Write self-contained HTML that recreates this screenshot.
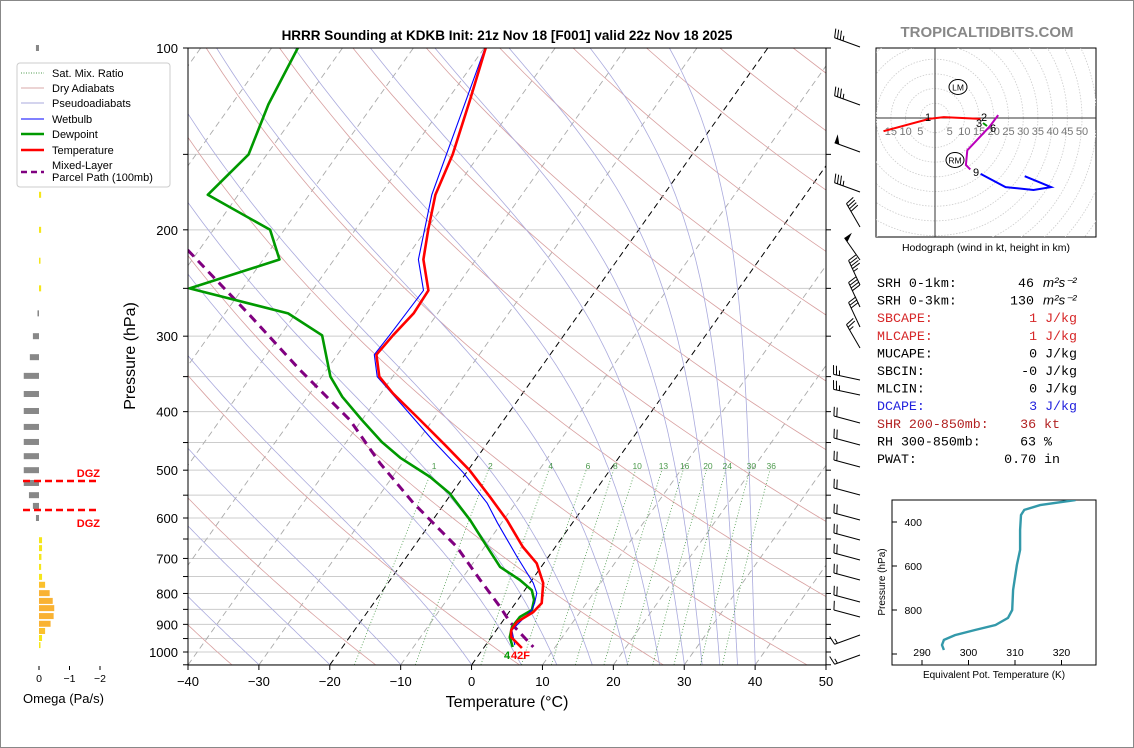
<!DOCTYPE html>
<html><head><meta charset="utf-8"><style>
html,body{margin:0;padding:0;background:#fff}
svg{display:block;font-family:"Liberation Sans","DejaVu Sans",sans-serif}
</style></head><body>
<svg id="s" width="1134" height="748" viewBox="0 0 1134 748" xmlns="http://www.w3.org/2000/svg">
<rect x="0.5" y="0.5" width="1133" height="747" fill="#fff" stroke="#888"/>
<defs><clipPath id="pc"><rect x="188" y="48" width="638" height="617"/></clipPath></defs>
<g id="bg" clip-path="url(#pc)"></g>
<g id="series" clip-path="url(#pc)"></g>
<rect x="188" y="48" width="638" height="617" fill="none" stroke="#000"/>
<g id="axes"></g>
<text x="507" y="40" text-anchor="middle" font-size="13.5" font-weight="bold">HRRR Sounding at KDKB Init: 21z Nov 18 [F001] valid 22z Nov 18 2025</text>
<text x="987" y="37" text-anchor="middle" font-size="15" font-weight="bold" fill="#888">TROPICALTIDBITS.COM</text>
<text x="507" y="707" text-anchor="middle" font-size="16">Temperature (°C)</text>
<text transform="translate(135,356) rotate(-90)" text-anchor="middle" font-size="16">Pressure (hPa)</text>
<g id="omega"></g>
<g id="barbs"></g>
<g id="hodo"></g>
<g id="stats" font-family="Liberation Mono, monospace" font-size="13.3"></g>
<g id="thetae"></g>
<g id="legend">
<rect x="17" y="63" width="153" height="124" rx="3" fill="#fff" stroke="#ccc"/>
<line x1="21" y1="73" x2="44" y2="73" stroke="#4c9a4c" stroke-dasharray="1,1.5"/>
<text x="52" y="77" font-size="11">Sat. Mix. Ratio</text>
<line x1="21" y1="88" x2="44" y2="88" stroke="#d8a8a8"/>
<text x="52" y="92" font-size="11">Dry Adiabats</text>
<line x1="21" y1="103" x2="44" y2="103" stroke="#aaaadd"/>
<text x="52" y="107" font-size="11">Pseudoadiabats</text>
<line x1="21" y1="119" x2="44" y2="119" stroke="#00f"/>
<text x="52" y="123" font-size="11">Wetbulb</text>
<line x1="21" y1="134" x2="44" y2="134" stroke="#090" stroke-width="2.5"/>
<text x="52" y="138" font-size="11">Dewpoint</text>
<line x1="21" y1="150" x2="44" y2="150" stroke="#f00" stroke-width="2.5"/>
<text x="52" y="154" font-size="11">Temperature</text>
<line x1="21" y1="172" x2="44" y2="172" stroke="#800080" stroke-width="2.5" stroke-dasharray="6,4"/>
<text x="52" y="169" font-size="11">Mixed-Layer</text>
<text x="52" y="181" font-size="11">Parcel Path (100mb)</text>
</g>
</svg>
<script>
// ---- data ----
const tempP=[100,122,150,175,200,224,252,275,299,322,350,373,413,454,500,554,605,670,713,769,830,859,892,920,945,985];
const tempT=[-59.8,-56.8,-53.8,-52.2,-49.7,-47.4,-43.6,-43.4,-44.1,-44.5,-41.9,-38.3,-31.8,-25.8,-19.8,-14.2,-9.5,-4.6,-1.0,1.9,3.7,3.4,2.1,2.1,2.8,5.4];
const dewP=[100,124,150,175,200,224,250,275,299,350,378,413,449,477,513,546,605,653,723,760,790,820,852,875,909,945,981];
const dewT=[-86.3,-84.8,-82.6,-84.3,-72.0,-67.7,-77.5,-61.1,-54.1,-48.8,-45.1,-40.0,-35.0,-30.8,-24.7,-20.3,-14.7,-10.9,-5.8,-1.7,1.0,2.3,3.0,2.0,1.9,2.6,4.0];
const wbP=[100,175,224,252,299,322,350,413,446,505,567,611,696,769,799,830,852,920,974];
const wbT=[-59.9,-52.7,-48.1,-44.3,-44.6,-44.8,-42.2,-32.5,-28.0,-20.4,-14.0,-10.6,-4.4,0.5,2.0,2.7,3.0,2.2,4.1];
const parP=[216,277,341,413,487,566,670,760,842,892,981];
const parT=[-81.6,-66.3,-53.8,-41.7,-33.1,-24.5,-13.9,-7.3,-1.8,1.1,6.9];
const tempTicks=[-40,-30,-20,-10,0,10,20,30,40,50];
const presTicks=[100,200,300,400,500,600,700,800,900,1000];
const mixRatios=[1,2,4,6,8,10,13,16,20,24,30,36];
const moistStarts=[-40,-30,-20,-10,0,7,12,17,22,26.5,30,32.5,35,37.5,40];
const omegaP=[100,150,175,200,225,250,275,300,325,349,374,399,424,449,474,500,525,550,573,600,653,673,696,723,751,774,799,823,846,872,898,923,948,974];
const omegaV=[0.1,-0.07,-0.07,-0.07,-0.03,-0.07,0.05,0.2,0.3,0.5,0.5,0.5,0.5,0.5,0.5,0.5,0.5,0.33,0.2,0.1,-0.1,-0.1,-0.08,-0.07,-0.1,-0.2,-0.35,-0.45,-0.5,-0.48,-0.38,-0.2,-0.1,-0.03];
const thetaP=[300,323,345,368,436,527,595,709,800,836,868,891,914,936,959,982];
const thetaV=[323,315.4,312,311.3,311.1,311.1,310.4,309.6,309.4,308.5,305.8,301.4,297.1,294.7,294.3,294.7];
const hodoRedU=[-17.5,-2,3,15.5];const hodoRedV=[-4.5,-0.3,0.3,-0.3];
const hodoMagU=[21.5,18.5,11,10.5,12];const hodoMagV=[1,-3,-11,-16,-17.5];
const hodoBlueU=[15.5,24,33.5,39.5,30.5];const hodoBlueV=[-19,-23.5,-24.5,-23.5,-19.8];
const statLabels=["SRH 0-1km:","SRH 0-3km:","SBCAPE:","MLCAPE:","MUCAPE:","SBCIN:","MLCIN:","DCAPE:","SHR 200-850mb:","RH 300-850mb:","PWAT:"];
const statValues=["46","130","1 J/kg","1 J/kg","0 J/kg","-0 J/kg","0 J/kg","3 J/kg","36 kt","63 %","0.70 in"];
const barbY=[42,100,147,187,222,255,280,302,322,343,375,390,418,440,462,490,515,535,555,575,597,612,630,650];
const barbSpd=[35,35,50,35,40,50,45,40,30,25,25,25,20,20,20,20,20,20,20,20,20,10,15,15];
const barbDir=[200,200,200,200,240,235,245,245,245,240,192,192,195,195,195,195,195,195,195,195,195,195,160,160];

const NS="http://www.w3.org/2000/svg";
function mk(tag,attrs,parent){const e=document.createElementNS(NS,tag);for(const k in attrs)e.setAttribute(k,attrs[k]);parent.appendChild(e);return e;}
const yOf=p=>48+604*Math.log10(p/100);
const xOf=(T,p)=>188+(T+40)*7.089+(665-yOf(p))*0.71;
const bg=document.getElementById('bg'),series=document.getElementById('series'),axes=document.getElementById('axes');
function pathFrom(ps,ts){return ps.map((p,i)=>(i?'L':'M')+xOf(ts[i],p).toFixed(1)+','+yOf(p).toFixed(1)).join('');}

for(let p=100;p<=1050;p+=50){const l=mk('line',{x1:188,x2:826,y1:yOf(p),y2:yOf(p),stroke:'#ccc','stroke-width':1},bg);

}
for(let T=-120;T<=50;T+=10){const bl=(T===0||T===-20);const l=mk('line',{x1:xOf(T,1050),y1:yOf(1050),x2:xOf(T,100),y2:yOf(100),stroke:bl?'#000':'#aaa','stroke-width':bl?1:0.9,'stroke-dasharray':'6,4'},bg);

}
for(let th=216;th<=600;th+=20){let d='';for(let p=1050;p>=100;p-=10){const T=th*Math.pow(p/1000,0.286)-273.15;d+=(d?'L':'M')+xOf(T,p).toFixed(1)+','+yOf(p).toFixed(1);}
const l=mk('path',{d:d,fill:'none',stroke:'#d8a0a0','stroke-width':0.8},bg);

}
function es(Tc){return 6.112*Math.exp(17.67*Tc/(Tc+243.5));}
moistStarts.forEach(T0=>{let T=T0+273.15;let d='M'+xOf(T0,1050).toFixed(1)+','+yOf(1050).toFixed(1);
for(let p=1050;p>100;p-=5){const e=es(T-273.15),rs=0.622*e/(p-e);const dTdp=(287*T+2.5e6*rs)/(p*(1004+2.5e6*2.5e6*rs*0.622/(287*T*T)));T-=dTdp*5;d+='L'+xOf(T-273.15,p-5).toFixed(1)+','+yOf(p-5).toFixed(1);}
const l=mk('path',{d:d,fill:'none',stroke:'#aaaadd','stroke-width':0.8},bg);

});
function tdOf(w,p){const e=w*p/(622+w);const a=Math.log(e/6.112);return 243.5*a/(17.67-a);}
mixRatios.forEach(w=>{let d='';for(let p=1050;p>=500;p-=25){d+=(d?'L':'M')+xOf(tdOf(w,p),p).toFixed(1)+','+yOf(p).toFixed(1);}
const l=mk('path',{d:d,fill:'none',stroke:'#4c9a4c','stroke-width':0.8,'stroke-dasharray':'1,2'},bg);


const t=mk('text',{x:xOf(tdOf(w,490),490),y:yOf(490)+4,'font-size':8.5,fill:'#4c9a4c','text-anchor':'middle'},bg);t.textContent=w;

});

let s;
s=mk('path',{d:pathFrom(parP,parT),fill:'none',stroke:'#800080','stroke-width':3,'stroke-dasharray':'9,6'},series);


s=mk('path',{d:pathFrom(dewP,dewT),fill:'none',stroke:'#090','stroke-width':2.6,'stroke-linejoin':'round'},series);


s=mk('path',{d:pathFrom(wbP,wbT),fill:'none',stroke:'#00f','stroke-width':1.1},series);


s=mk('path',{d:pathFrom(tempP,tempT),fill:'none',stroke:'#f00','stroke-width':2.6,'stroke-linejoin':'round'},series);


s=mk('text',{x:504,y:659,'font-size':11,'font-weight':'bold',fill:'#090'},series);s.textContent='4';


s=mk('text',{x:511,y:659,'font-size':11,'font-weight':'bold',fill:'#f00'},series);s.textContent='42F';



tempTicks.forEach(T=>{const x=188+(T+40)*7.089;mk('line',{x1:x,x2:x,y1:665,y2:670,stroke:'#000'},axes);
const t=mk('text',{x:x,y:686,'font-size':13,'text-anchor':'middle'},axes);t.textContent=T<0?'−'+(-T):T;

});
for(let p=100;p<=1050;p+=50){const y=yOf(p);mk('line',{x1:183,x2:188,y1:y,y2:y,stroke:'#000'},axes);mk('line',{x1:826,x2:831,y1:y,y2:y,stroke:'#000'},axes);}
presTicks.forEach(p=>{const t=mk('text',{x:178,y:yOf(p)+5,'font-size':13,'text-anchor':'end'},axes);t.textContent=p;

});

const om=document.getElementById('omega');
omegaP.forEach((p,i)=>{const v=omegaV[i],w=Math.abs(v)*30.5,y=yOf(p);const x=v>0?39-w:39;
const col=v>0?'#888':(v<-0.3?'#f9b233':(v<-0.15?'#fbc02d':'#f5e61a'));
const r=mk('rect',{x:x,y:y-3,width:Math.max(w,1.5),height:6,fill:col},om);

});
[[481,'DGZ',473],[510,'DGZ',523]].forEach(a=>{const l=mk('line',{x1:23,x2:100,y1:a[0],y2:a[0],stroke:'#f00','stroke-width':2.5,'stroke-dasharray':'7,4'},om);


const t=mk('text',{x:100,y:a[2]+4,'font-size':11,'font-weight':'bold',fill:'#f00','text-anchor':'end'},om);t.textContent=a[1];

});
[0,-1,-2].forEach(v=>{const x=39-v*30.5;mk('line',{x1:x,x2:x,y1:666,y2:670,stroke:'#000'},om);
const t=mk('text',{x:x,y:682,'font-size':10.5,'text-anchor':'middle'},om);t.textContent=v<0?'−'+(-v):v;

});
s=mk('text',{x:23,y:703,'font-size':13},om);s.textContent='Omega (Pa/s)';



const bb=document.getElementById('barbs');
barbY.forEach((y,i)=>{const spd=barbSpd[i],ang=barbDir[i]*Math.PI/180;const L=27;
const ax=860,ay=y+5;const ux=Math.cos(ang),uy=Math.sin(ang);const ex=ax+ux*L,ey=ay+uy*L;
const g=mk('g',{},bb);


mk('line',{x1:ax,y1:ay,x2:ex,y2:ey,stroke:'#000','stroke-width':1},g);
let nx=uy,ny=-ux;if(ny>0){nx=-nx;ny=-ny;}
let rem=spd,pos=0;
while(rem>=50){const px=ex-ux*pos,py=ey-uy*pos;mk('path',{d:`M${px},${py}L${px+nx*9},${py+ny*9}L${px-ux*5},${py-uy*5}Z`,fill:'#000'},g);pos+=6;rem-=50;}
while(rem>=10){const px=ex-ux*pos,py=ey-uy*pos;mk('line',{x1:px,y1:py,x2:px+nx*9+ux*2,y2:py+ny*9+uy*2,stroke:'#000'},g);pos+=3;rem-=10;}
if(rem>=5){if(pos===0)pos=3;const px=ex-ux*pos,py=ey-uy*pos;mk('line',{x1:px,y1:py,x2:px+nx*5+ux*1,y2:py+ny*5+uy*1,stroke:'#000'},g);}
});

const hd=document.getElementById('hodo');const hx=935,hy=118,ks=2.94;
mk('rect',{x:876,y:48,width:220,height:189,fill:'#fff',stroke:'#000'},hd);
const cp=mk('clipPath',{id:'hcp'},hd);mk('rect',{x:876,y:48,width:220,height:189},cp);
const hc=mk('g',{'clip-path':'url(#hcp)'},hd);
for(let r=5;r<=80;r+=5){mk('circle',{cx:hx,cy:hy,r:r*ks,fill:'none',stroke:'#ccc','stroke-dasharray':'1.5,1.5','stroke-width':0.8},hc);}
mk('line',{x1:876,x2:1096,y1:hy,y2:hy,stroke:'#333'},hc);mk('line',{x1:hx,x2:hx,y1:48,y2:237,stroke:'#333'},hc);
[5,10,15,20,25,30,35,40,45,50].forEach(k=>{const t=mk('text',{x:hx+k*ks,y:hy+17,'font-size':11,fill:'#777','text-anchor':'middle'},hc);t.textContent=k;

});
[5,10,15].forEach(k=>{const t=mk('text',{x:hx-k*ks,y:hy+17,'font-size':11,fill:'#777','text-anchor':'middle'},hc);t.textContent=k;

});
function hp(us,vs,col,name){const d=us.map((u,i)=>(i?'L':'M')+(hx+u*ks).toFixed(1)+','+(hy-vs[i]*ks).toFixed(1)).join('');
const p=mk('path',{d:d,fill:'none',stroke:col,'stroke-width':2},hc);

}
hp(hodoRedU,hodoRedV,'#f00','hodo-0-1km');hp(hodoMagU,hodoMagV,'#b0b','hodo-3-9km');hp(hodoBlueU,hodoBlueV,'#00f','hodo-9km-up');
mk('line',{x1:983,y1:123,x2:987,y2:126,stroke:'#090','stroke-width':2},hc);
[['1',928,121],['2',984,121],['3',979,127],['6',993,132],['9',976,176]].forEach(a=>{const t=mk('text',{x:a[1],y:a[2],'font-size':11,'text-anchor':'middle'},hc);t.textContent=a[0];

});
[['LM',958,87],['RM',955,160]].forEach(a=>{mk('ellipse',{cx:a[1],cy:a[2],rx:9,ry:7.5,fill:'#fff',stroke:'#000'},hc);const t=mk('text',{x:a[1],y:a[2]+3.5,'font-size':8.5,'text-anchor':'middle'},hc);t.textContent=a[0];

});
s=mk('text',{x:986,y:251,'font-size':10.5,'text-anchor':'middle'},hd);s.textContent='Hodograph (wind in kt, height in km)';



const st=document.getElementById('stats');
const statCols=['#000','#000','#d62728','#d62728','#000','#000','#000','#2222dd','#b22222','#000','#000'];
const statEnd=[1034,1034,1077,1077,1077,1077,1077,1077,1060,1052,1060];
statLabels.forEach((lab,i)=>{const y=287+i*17.6;
const t=mk('text',{x:877,y:y,fill:statCols[i]},st);t.textContent=lab;


const v=mk('text',{x:statEnd[i],y:y,fill:statCols[i],'text-anchor':'end'},st);v.textContent=statValues[i];


if(i<2){const u=mk('text',{x:1043,y:y,fill:'#000','font-family':'Liberation Sans, sans-serif','font-style':'italic'},st);u.textContent='m²s⁻²';

}});

const te=document.getElementById('thetae');
const tx=th=>1015+(th-310)*4.65,ty=p=>522+(p-400)*0.22;
mk('rect',{x:892,y:500,width:204,height:165,fill:'#fff',stroke:'#000'},te);
const tcp=mk('clipPath',{id:'tcp'},te);mk('rect',{x:892,y:500,width:204,height:165},tcp);
const tg=mk('g',{'clip-path':'url(#tcp)'},te);
s=mk('path',{d:thetaP.map((p,i)=>(i?'L':'M')+tx(thetaV[i]).toFixed(1)+','+ty(p).toFixed(1)).join(''),fill:'none',stroke:'#3399aa','stroke-width':2.4},tg);


[400,600,800,1000].forEach(p=>{mk('line',{x1:892,x2:897,y1:ty(p),y2:ty(p),stroke:'#000'},te);if(p<1000){const t=mk('text',{x:922,y:ty(p)+4,'font-size':10.5,'text-anchor':'end'},te);t.textContent=p;

}});
[290,300,310,320].forEach(v=>{mk('line',{x1:tx(v),x2:tx(v),y1:660,y2:665,stroke:'#000'},te);const t=mk('text',{x:tx(v),y:656,'font-size':10.5,'text-anchor':'middle'},te);t.textContent=v;

});
s=mk('text',{x:994,y:678,'font-size':10,'text-anchor':'middle'},te);s.textContent='Equivalent Pot. Temperature (K)';


s=mk('text',{transform:'translate(885,582) rotate(-90)','font-size':10,'text-anchor':'middle'},te);s.textContent='Pressure (hPa)';


</script>
</body></html>
